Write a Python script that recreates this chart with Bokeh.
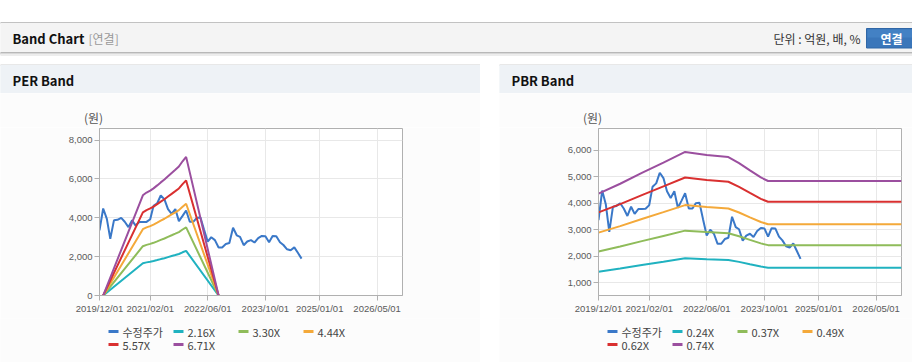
import pandas as pd
from bokeh.plotting import figure
from bokeh.models import (Range1d, FixedTicker, DatetimeTickFormatter, Spacer, NumeralTickFormatter)
from bokeh.layouts import column, row
from bokeh.embed import file_html
from bokeh.resources import INLINE
from bokeh.core.properties import value

# ---------------- data ----------------
price_start = "2019-12-01"
price_end = "2024-08-01"
price = [3360, 4480, 3950, 2920, 3870, 3900, 4000, 3800, 3520, 3870,
         3600, 3780, 3780, 3790, 3930, 4620, 4750, 5150, 4950, 4450,
         4200, 4450, 3830, 4100, 4380, 3800, 3800, 4000, 4020, 3400,
         2780, 3000, 2850, 2470, 2470, 2650, 2700, 3490, 3100, 3020,
         2590, 2780, 2850, 2730, 2950, 3070, 3050, 2740, 3060, 3050,
         2740, 2600, 2380, 2330, 2480, 2200, 1900]

per_band_dates = ["2020-01-01", "2020-12-01", "2021-01-01", "2021-02-01", "2021-03-01",
                  "2021-04-01", "2021-05-01", "2021-06-01", "2021-07-01", "2021-08-01",
                  "2021-09-01", "2021-10-01", "2021-11-01", "2021-12-01", "2022-09-01"]
per_labels = ["2.16X", "3.30X", "4.44X", "5.57X", "6.71X"]
per_216 = [0, 1661, 1706, 1739, 1776, 1825, 1875, 1922, 1976, 2030, 2084, 2138, 2225, 2298, 0]
per_330 = [0, 2538, 2607, 2657, 2713, 2789, 2864, 2937, 3020, 3102, 3185, 3267, 3399, 3511, 0]
per_444 = [0, 3414, 3508, 3574, 3650, 3752, 3854, 3952, 4063, 4174, 4285, 4396, 4573, 4724, 0]
per_557 = [0, 4283, 4400, 4484, 4579, 4707, 4835, 4957, 5097, 5236, 5375, 5514, 5737, 5926, 0]
per_671 = [0, 5160, 5301, 5402, 5516, 5670, 5824, 5972, 6140, 6307, 6475, 6643, 6911, 7139, 0]

pbr_band_dates = ["2019-12-01", "2020-06-01", "2020-12-01", "2021-06-01", "2021-12-01",
                  "2022-06-01", "2022-12-01", "2023-03-01", "2023-06-01", "2023-09-01",
                  "2023-11-01", "2026-12-01"]
pbr_labels = ["0.24X", "0.37X", "0.49X", "0.62X", "0.74X"]
pbr_024 = [1416, 1536, 1668, 1795, 1925, 1889, 1862, 1788, 1699, 1613, 1570, 1570]
pbr_037 = [2183, 2368, 2572, 2768, 2967, 2912, 2871, 2757, 2620, 2486, 2420, 2420]
pbr_049 = [2891, 3136, 3406, 3665, 3930, 3856, 3802, 3651, 3469, 3293, 3205, 3205]
pbr_062 = [3658, 3968, 4309, 4638, 4972, 4879, 4811, 4619, 4390, 4166, 4055, 4055]
pbr_074 = [4366, 4736, 5143, 5535, 5935, 5824, 5742, 5513, 5239, 4973, 4840, 4840]

x_tick_labels = ["2019/12/01", "2021/02/01", "2022/06/01", "2023/10/01", "2025/01/01", "2026/05/01"]
per_y_ticks = [0, 2000, 4000, 6000, 8000]
pbr_y_ticks = [1000, 2000, 3000, 4000, 5000, 6000]
x_start, x_end = "2019-12-01", "2026-12-01"

price_label = "수정주가"
price_color = "#3a78c8"
band_colors = ["#20b2c0", "#8fbc5a", "#f4a93a", "#d93030", "#9b4f9f"]

KFONT = "Noto Sans CJK KR"
NFONT = "Liberation Sans"

price_x = list(pd.date_range(price_start, price_end, freq="MS"))
per_x = list(pd.to_datetime(per_band_dates))
pbr_x = list(pd.to_datetime(pbr_band_dates))
tick_ms = [pd.to_datetime(t, format="%Y/%m/%d").value // 10**6 for t in x_tick_labels]


def no_align(p):
    if "frame_align" in p.properties():
        p.frame_align = False
    return p


def page_fig(w, h, x0, y0, bg="#ffffff"):
    p = figure(width=w, height=h, x_range=Range1d(x0, x0 + w), y_range=Range1d(y0 + h, y0),
               output_backend="svg", toolbar_location=None, min_border=0,
               x_axis_location=None, y_axis_location=None)
    p.xgrid.grid_line_color = None
    p.ygrid.grid_line_color = None
    p.outline_line_color = None
    p.background_fill_color = bg
    p.border_fill_color = bg
    return no_align(p)


# ---------------- top header ----------------
top = page_fig(912, 64, 0, 0)
top.quad(left=0, right=912, top=22, bottom=23, color="#c2c2c2")
top.quad(left=0, right=912, top=23, bottom=52, color="#f4f4f4")
top.quad(left=0, right=912, top=52, bottom=53, color="#b8b8b8")
top.quad(left=0, right=912, top=53, bottom=54, color="#d8d8d8")
top.quad(left=0, right=912, top=54, bottom=55, color="#ededed")
# button
top.quad(left=866, right=913, top=28, bottom=47.5, fill_color="#3a76ba", line_color="#2f66a6", line_width=1)
top.quad(left=867, right=913, top=29, bottom=37, fill_color="#4381c4", line_color=None)
top.text(x=[12], y=[38], text=["Band Chart"], text_font=value(KFONT), text_font_size="13px",
         text_font_style="bold", text_color="#111111", text_baseline="middle")
top.text(x=[88], y=[38], text=["[연결]"], text_font=value(KFONT), text_font_size="12px",
         text_color="#999999", text_baseline="middle")
top.text(x=[860], y=[38], text=["단위 : 억원, 배, %"], text_font=value(KFONT), text_font_size="12px",
         text_color="#333333", text_baseline="middle", text_align="right")
top.text(x=[891], y=[38], text=["연결"], text_font=value(KFONT), text_font_size="12px",
         text_font_style="bold", text_color="#ffffff", text_baseline="middle", text_align="center")


def panel_header(w, x0, title):
    p = page_fig(w, 29, x0, 64)
    p.quad(left=x0, right=x0 + w, top=64, bottom=65, color="#d9d9d9")
    p.quad(left=x0, right=x0 + w, top=65, bottom=93, color="#eef2f6")
    p.text(x=[x0 + 12], y=[79.5], text=[title], text_font=value(KFONT), text_font_size="13px",
           text_font_style="bold", text_color="#111111", text_baseline="middle")
    return p


def unit_fig(w, x0):
    p = page_fig(w, 34, x0, 93, bg="#fcfcfc")
    p.text(x=[x0 + 93], y=[117], text=["(원)"], text_font=value(KFONT), text_font_size="12px",
           text_color="#555555", text_baseline="middle", text_align="center")
    return p


def legend_fig(w, x0, labels):
    p = page_fig(w, 44, x0, 318, bg="#fcfcfc")
    names = [price_label] + labels
    cols = [price_color] + band_colors
    sx = [x0 + 108 + (i % 4) * 65 for i in range(len(names))]
    sy = [331 if i < 4 else 344 for i in range(len(names))]
    p.segment(x0=sx, y0=sy, x1=[v + 10 for v in sx], y1=sy, line_color=cols, line_width=3)
    p.text(x=[v + 14 for v in sx], y=sy, text=names, text_font=value(KFONT), text_font_size="11px",
           text_color="#444444", text_baseline="middle")
    return p


def panel_bottom(w, x0):
    p = page_fig(w, 2, x0, 362)
    p.quad(left=x0, right=x0 + w, top=362, bottom=363, color="#d0d0d0")
    return p


def chart(w, y_range, y_ticks, bands, band_x):
    p = figure(width=w, height=191, x_axis_type="datetime",
               x_range=Range1d(pd.Timestamp(x_start), pd.Timestamp(x_end)), y_range=y_range,
               output_backend="svg", toolbar_location=None,
               min_border_left=99, min_border_right=w - 99 - 303,
               min_border_top=1, min_border_bottom=23)
    no_align(p)
    p.background_fill_color = "#ffffff"
    p.border_fill_color = "#fcfcfc"
    p.outline_line_color = "#b0b0b0"
    p.xaxis.ticker = FixedTicker(ticks=tick_ms)
    fmt = "%Y/%m/%d"
    p.xaxis.formatter = DatetimeTickFormatter(milliseconds=fmt, seconds=fmt, minsec=fmt, minutes=fmt,
                                              hourmin=fmt, hours=fmt, days=fmt, months=fmt, years=fmt)
    p.yaxis.ticker = FixedTicker(ticks=y_ticks)
    p.yaxis.formatter = NumeralTickFormatter(format="0,0")
    for ax in p.axis:
        ax.axis_line_color = "#b0b0b0"
        ax.major_tick_line_color = "#b0b0b0"
        ax.major_tick_out = 5
        ax.major_tick_in = 0
        ax.minor_tick_line_color = None
        ax.major_label_text_font = NFONT
        ax.major_label_text_font_size = "9.5px"
        ax.major_label_text_color = "#5a5a5a"
        ax.major_label_standoff = 2
    p.xgrid.grid_line_color = "#e8e8e8"
    p.ygrid.grid_line_color = "#e8e8e8"

    p.line(price_x, price, line_color=price_color, line_width=2)
    for vals, col in zip(bands, band_colors):
        p.line(band_x, vals, line_color=col, line_width=2)
    return p


per = chart(480, Range1d(0, 8600), per_y_ticks,
            [per_216, per_330, per_444, per_557, per_671], per_x)
pbr = chart(413, Range1d(520, 6820), pbr_y_ticks,
            [pbr_024, pbr_037, pbr_049, pbr_062, pbr_074], pbr_x)

left_col = column(panel_header(480, 0, "PER Band"), unit_fig(480, 0), per,
                  legend_fig(480, 0, per_labels), panel_bottom(480, 0), spacing=0)
right_col = column(panel_header(413, 499, "PBR Band"), unit_fig(413, 499), pbr,
                   legend_fig(413, 499, pbr_labels), panel_bottom(413, 499), spacing=0)
layout = column(top, row(left_col, Spacer(width=19, height=300), right_col, spacing=0), spacing=0)

open("out.html", "w").write(file_html(layout, INLINE))
